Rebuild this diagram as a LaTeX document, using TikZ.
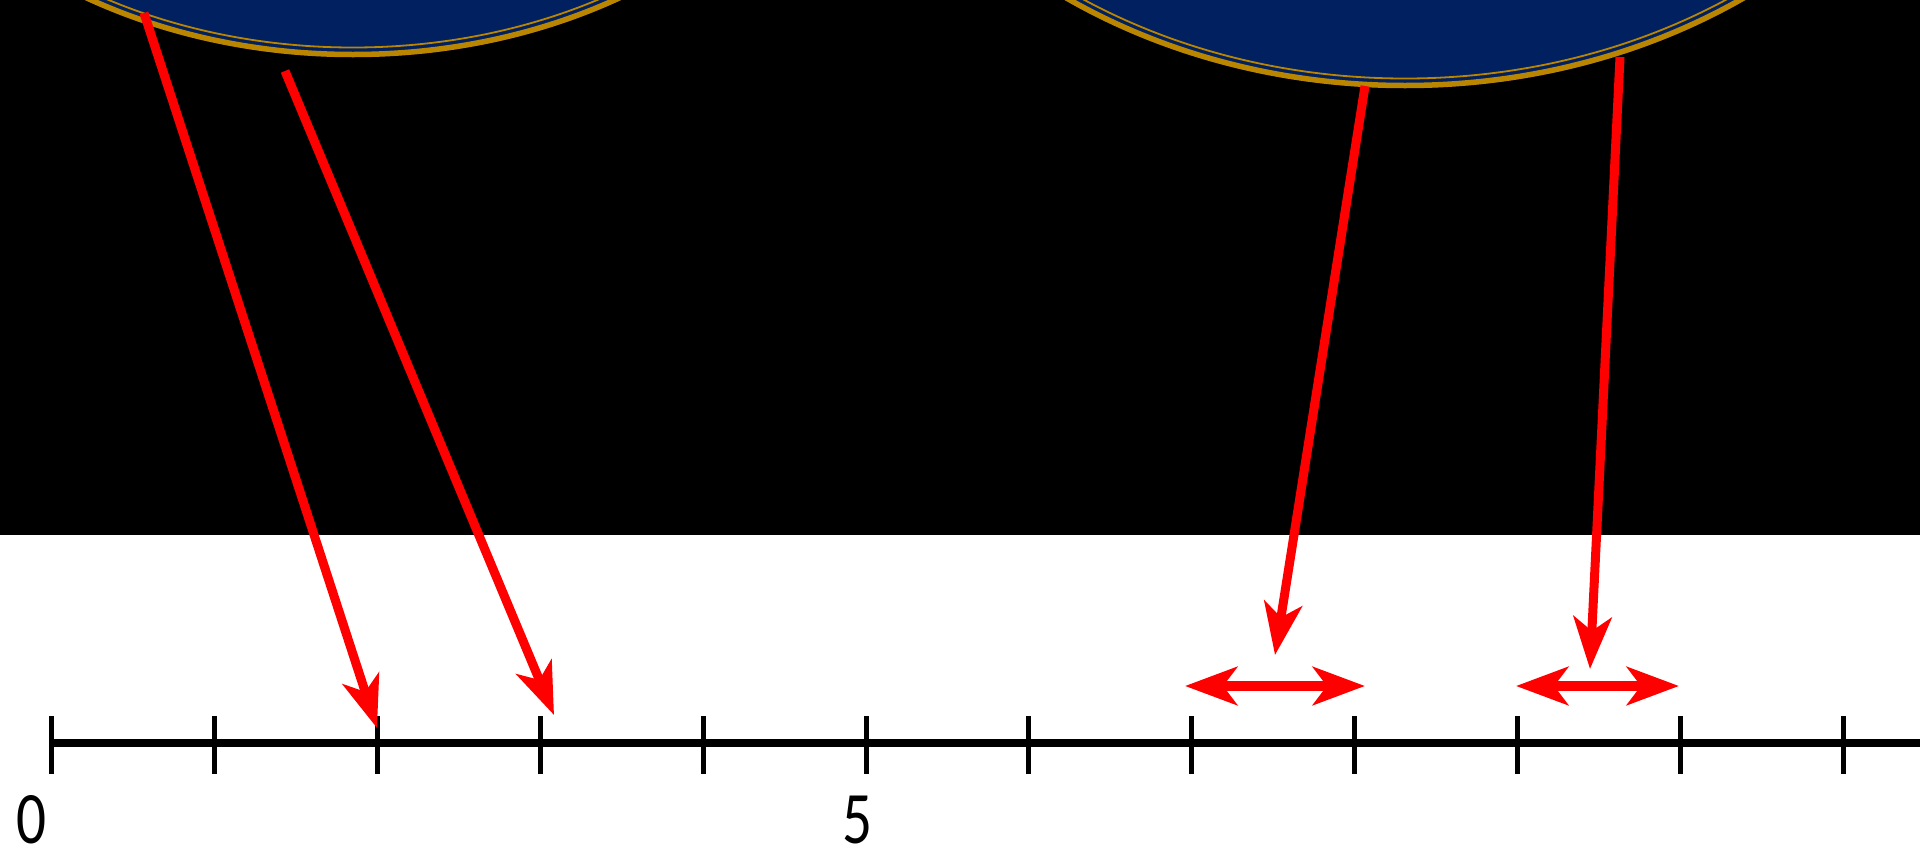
\documentclass[tikz,border=0pt]{standalone}
\usepackage{graphicx}
\usepackage{fontspec}
\setmainfont{Carlito}
\usetikzlibrary{arrows.meta}
\definecolor{navy}{RGB}{0,32,96}
\definecolor{gold}{RGB}{186,134,0}
\definecolor{redc}{RGB}{255,0,0}
\newcommand{\narrowdigit}[1]{\scalebox{0.8}[1]{#1}}
\begin{document}
\begin{tikzpicture}[x=1pt,y=-1pt,
  tip/.tip={Stealth[length=52pt,width=38pt,inset=14pt]},
  ptr/.style={draw=redc, line width=9pt, -tip},
  dbl/.style={draw=redc, line width=9.5pt, tip-tip},
  tickmark/.style={line width=5pt, draw=black},
  axis/.style={line width=8.5pt, draw=black},
  coin/.style={fill=navy},
  rimout/.style={draw=gold, line width=5.5pt},
  rimin/.style={draw=gold, line width=1.8pt},
  lbl/.style={font=\fontsize{74}{80}\selectfont, anchor=base, inner sep=0pt}]
\useasboundingbox (0,0) rectangle (1920,849);
\fill[white] (0,0) rectangle (1920,849);
\fill[black] (0,0) rectangle (1920,535);
% left coin
\fill[coin] (353,-343) ellipse [x radius=520, y radius=400];
\draw[rimout] (353,-343) ellipse [x radius=517.5, y radius=397.5];
\draw[rimin] (353,-343) ellipse [x radius=510.5, y radius=390.5];
% right coin
\fill[coin] (1405,-412) ellipse [x radius=600, y radius=500];
\draw[rimout] (1405,-412) ellipse [x radius=597.5, y radius=497.5];
\draw[rimin] (1405,-412) ellipse [x radius=590.5, y radius=490.5];
% number line
\draw[axis] (51.5,743) -- (1920,743);
\foreach \k in {0,...,11}
  \draw[tickmark] ({51.5+162.9*\k},716) -- ({51.5+162.9*\k},774);
\node[lbl] (l0) at (32,843) {\narrowdigit{0}};
\node[lbl] (l5) at (857,843) {\narrowdigit{5}};
% arrows
\coordinate (s1) at (144,13);
\coordinate (t1) at (377,728);
\coordinate (s2) at (285,71);
\coordinate (t2) at (554,715);
\coordinate (s3) at (1365,86);
\coordinate (t3) at (1275,655);
\coordinate (s4) at (1620,57);
\coordinate (t4) at (1590,669);
\coordinate (d1a) at (1185,686);
\coordinate (d1b) at (1365,686);
\coordinate (d2a) at (1516,686);
\coordinate (d2b) at (1679,686);
\draw[ptr] (s1) -- (t1);
\draw[ptr] (s2) -- (t2);
\draw[ptr] (s3) -- (t3);
\draw[ptr] (s4) -- (t4);
\draw[dbl] (d1a) -- (d1b);
\draw[dbl] (d2a) -- (d2b);
\end{tikzpicture}
\end{document}
